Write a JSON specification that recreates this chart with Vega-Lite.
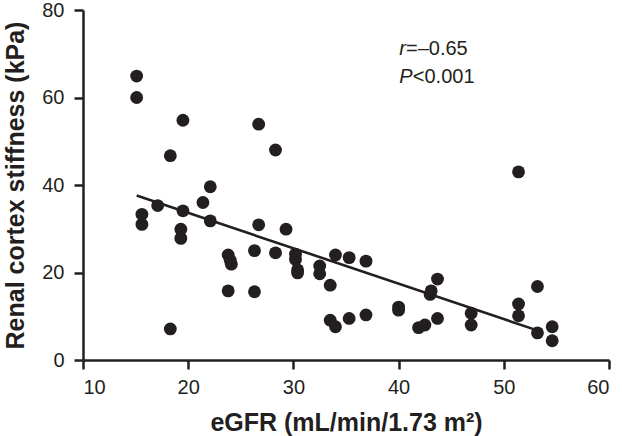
{
  "$schema": "https://vega.github.io/schema/vega-lite/v6.json",
  "width": 526,
  "height": 350,
  "autosize": {"type": "none"},
  "padding": {"left": 83, "top": 10, "right": 13, "bottom": 76},
  "background": "white",
  "config": {
    "view": {"stroke": null},
    "font": "Liberation Sans",
    "axis": {
      "domainColor": "#231f20",
      "domainWidth": 2.5,
      "tickColor": "#231f20",
      "tickWidth": 2.5,
      "tickSize": 9,
      "grid": false,
      "labelFont": "Liberation Sans",
      "labelFontSize": 20,
      "labelColor": "#231f20",
      "titleFont": "Liberation Sans",
      "titleFontSize": 25,
      "titleFontWeight": "bold",
      "titleColor": "#231f20"
    }
  },
  "datasets": {
    "pts": [
      {"egfr": 15.1, "stiff": 64.9}, {"egfr": 15.1, "stiff": 60.0}, {"egfr": 19.5, "stiff": 54.8},
      {"egfr": 26.7, "stiff": 53.9}, {"egfr": 28.3, "stiff": 48.0}, {"egfr": 18.3, "stiff": 46.7},
      {"egfr": 22.1, "stiff": 39.6}, {"egfr": 21.4, "stiff": 36.0}, {"egfr": 17.1, "stiff": 35.3},
      {"egfr": 19.5, "stiff": 34.1}, {"egfr": 15.6, "stiff": 33.3}, {"egfr": 15.6, "stiff": 31.0},
      {"egfr": 22.1, "stiff": 31.8}, {"egfr": 19.3, "stiff": 29.9}, {"egfr": 19.3, "stiff": 27.8},
      {"egfr": 26.7, "stiff": 30.9}, {"egfr": 29.3, "stiff": 29.9}, {"egfr": 23.8, "stiff": 24.0},
      {"egfr": 24.0, "stiff": 22.8}, {"egfr": 24.1, "stiff": 21.9}, {"egfr": 26.3, "stiff": 25.0},
      {"egfr": 28.3, "stiff": 24.5}, {"egfr": 30.2, "stiff": 24.2}, {"egfr": 30.2, "stiff": 23.0},
      {"egfr": 30.4, "stiff": 20.6}, {"egfr": 30.4, "stiff": 19.9}, {"egfr": 32.5, "stiff": 21.5},
      {"egfr": 32.5, "stiff": 19.7}, {"egfr": 33.5, "stiff": 17.1}, {"egfr": 34.0, "stiff": 24.0},
      {"egfr": 35.3, "stiff": 23.4}, {"egfr": 36.9, "stiff": 22.6}, {"egfr": 23.8, "stiff": 15.8},
      {"egfr": 26.3, "stiff": 15.6}, {"egfr": 18.3, "stiff": 7.1}, {"egfr": 33.5, "stiff": 9.1},
      {"egfr": 34.0, "stiff": 7.6}, {"egfr": 35.3, "stiff": 9.5}, {"egfr": 36.9, "stiff": 10.3},
      {"egfr": 40.0, "stiff": 12.1}, {"egfr": 40.0, "stiff": 11.4}, {"egfr": 41.9, "stiff": 7.4},
      {"egfr": 42.5, "stiff": 8.0}, {"egfr": 43.7, "stiff": 9.5}, {"egfr": 43.1, "stiff": 15.8},
      {"egfr": 43.0, "stiff": 15.0}, {"egfr": 43.7, "stiff": 18.5}, {"egfr": 46.9, "stiff": 10.7},
      {"egfr": 46.9, "stiff": 8.0}, {"egfr": 51.4, "stiff": 12.8}, {"egfr": 51.4, "stiff": 10.1},
      {"egfr": 51.4, "stiff": 43.0}, {"egfr": 53.2, "stiff": 16.8}, {"egfr": 53.2, "stiff": 6.2},
      {"egfr": 54.6, "stiff": 7.6}, {"egfr": 54.6, "stiff": 4.4}
    ],
    "fit": [
      {"egfr": 15.1, "stiff": 37.6},
      {"egfr": 52.9, "stiff": 7.0}
    ],
    "italic": [
      {"egfr": 40.07, "stiff": 69.7, "t": "r"},
      {"egfr": 40.07, "stiff": 63.3, "t": "P"}
    ],
    "plain": [
      {"egfr": 40.7, "stiff": 69.7, "t": "=–0.65"},
      {"egfr": 41.35, "stiff": 63.3, "t": "<0.001"}
    ]
  },
  "encoding": {
    "x": {
      "field": "egfr",
      "type": "quantitative",
      "scale": {"domain": [10, 60], "nice": false, "zero": false},
      "axis": {
        "values": [10, 20, 30, 40, 50, 60],
        "title": "eGFR (mL/min/1.73 m²)",
        "labelPadding": 8,
        "titleBaseline": "alphabetic",
        "titleY": 70
      }
    },
    "y": {
      "field": "stiff",
      "type": "quantitative",
      "scale": {"domain": [0, 80], "nice": false, "zero": false},
      "axis": {
        "values": [0, 20, 40, 60, 80],
        "title": "Renal cortex stiffness (kPa)",
        "labelPadding": 10,
        "titleBaseline": "alphabetic",
        "titleX": -60,
        "titleY": 175
      }
    }
  },
  "layer": [
    {
      "data": {"name": "fit"},
      "mark": {"type": "line", "color": "#231f20", "strokeWidth": 2.6}
    },
    {
      "data": {"name": "pts"},
      "mark": {"type": "circle", "size": 165, "color": "#231f20", "opacity": 1}
    },
    {
      "data": {"name": "italic"},
      "mark": {"type": "text", "align": "left", "baseline": "alphabetic", "fontSize": 20, "fontStyle": "italic", "color": "#231f20", "font": "Liberation Sans"},
      "encoding": {"text": {"field": "t"}}
    },
    {
      "data": {"name": "plain"},
      "mark": {"type": "text", "align": "left", "baseline": "alphabetic", "fontSize": 20, "color": "#231f20", "font": "Liberation Sans"},
      "encoding": {"text": {"field": "t"}}
    }
  ]
}
